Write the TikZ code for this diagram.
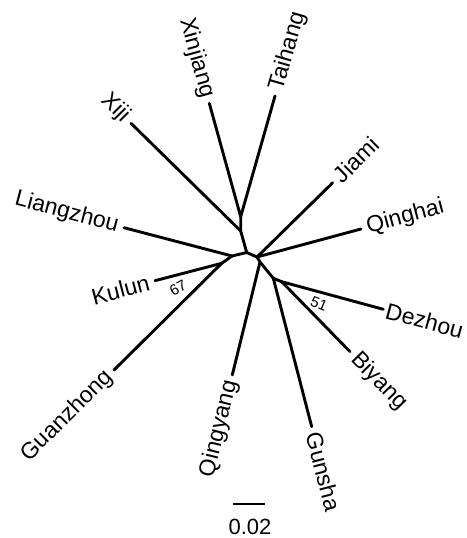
\documentclass[tikz,border=0pt]{standalone}
\usepackage{fontspec}
\setmainfont{Liberation Sans}
\usetikzlibrary{positioning}

\begin{document}
\begin{tikzpicture}[x=1pt,y=-1pt,
  branch/.style={line width=2.9pt,line cap=round,line join=round},
  leaf/.style={font=\fontsize{23}{27}\selectfont,inner xsep=6pt,inner ysep=0pt},
  boot/.style={font=\fontsize{15}{17}\selectfont,inner sep=0pt},
]
  \useasboundingbox (0,0) rectangle (466,538);

  % Internal nodes of the tree
  \coordinate (n1) at (240.7,216.7);
  \coordinate (n2) at (240.7,231.0);
  \coordinate (n3) at (246.7,252.5);
  \coordinate (n4) at (232.0,256.0);
  \coordinate (n5) at (221.7,263.3);
  \coordinate (n6) at (257.0,257.0);
  \coordinate (n7) at (260.0,262.0);
  \coordinate (n8) at (273.3,278.3);
  \coordinate (n9) at (281.7,281.7);

  % Leaves
  \node[leaf,rotate=-74.5,anchor=east] (xinjiang)  at (209.3,103.3) {Xinjiang};
  \node[leaf,rotate=74,anchor=west]    (taihang)   at (275.0,96.0)  {Taihang};
  \node[leaf,rotate=-45,anchor=east]   (xiji)      at (131.0,123.3) {Xiji};
  \node[leaf,rotate=-14.7,anchor=east] (liangzhou) at (124.0,227.7) {Liangzhou};
  \node[leaf,rotate=44.5,anchor=west]  (jiami)     at (332.7,182.7) {Jiami};
  \node[leaf,rotate=15,anchor=west]    (qinghai)   at (361.0,229.0) {Qinghai};
  \node[leaf,rotate=14.6,anchor=east]  (kulun)     at (155.0,280.7) {Kulun};
  \node[leaf,rotate=44.7,anchor=east]  (guanzhong) at (114.0,370.0) {Guanzhong};
  \node[leaf,rotate=76.2,anchor=east]  (qingyang)  at (232.3,375.0) {Qingyang};
  \node[leaf,rotate=-75.5,anchor=west] (gunsha)    at (311.7,426.7) {Gunsha};
  \node[leaf,rotate=-15.2,anchor=west,inner xsep=3pt] (dezhou) at (383.3,309.3) {Dezhou};
  \node[leaf,rotate=-45.7,anchor=west] (biyang)    at (350.0,351.7) {Biyang};

  % Branches
  \draw[branch] (xinjiang.east) -- (n1) -- (taihang.west);
  \draw[branch] (n1) -- (n2) -- (n3);
  \draw[branch] (xiji.east) -- (n2);
  \draw[branch] (liangzhou.east) -- (n4) -- (n3) -- (n6) -- (n7) -- (n8) -- (n9);
  \draw[branch] (kulun.east) -- (n5) -- (n4);
  \draw[branch] (guanzhong.east) -- (n5);
  \draw[branch] (jiami.west) -- (n6) -- (qinghai.west);
  \draw[branch] (n7) -- (qingyang.east);
  \draw[branch] (n8) -- (gunsha.west);
  \draw[branch] (dezhou.west) -- (n9) -- (biyang.west);

  % Bootstrap values
  \node[boot,rotate=28]  (b67) at (178,288) {67};
  \node[boot,rotate=-22] (b51) at (319,304) {51};

  % Scale bar
  \coordinate (s1) at (233.3,504);
  \coordinate (s2) at (264.7,504);
  \draw[line width=2.4pt] (s1) -- (s2);
  \node[font=\fontsize{22}{26}\selectfont,inner sep=0pt] (scale) at (250,526.5) {0.02};
\end{tikzpicture}
\end{document}
